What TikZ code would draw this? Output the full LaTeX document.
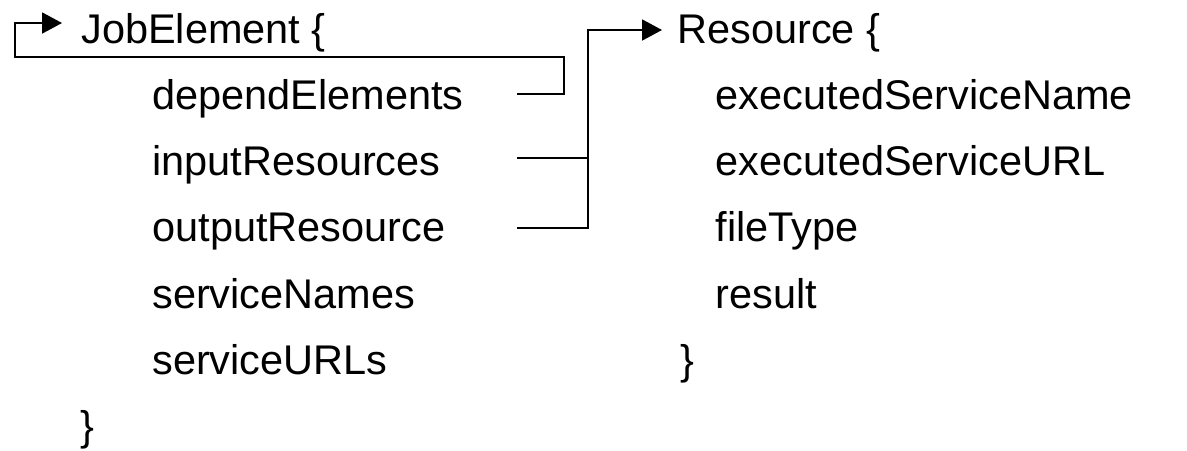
\documentclass[tikz,border=0pt]{standalone}
\usepackage{fontspec}
\setmainfont{Liberation Sans}
\usetikzlibrary{arrows.meta}

\begin{document}
\begin{tikzpicture}[
    every node/.style={font=\fontsize{23.6}{28}\selectfont,inner sep=0pt,anchor=base west},
    link/.style={line width=1.1pt},
    arrowlink/.style={link,-{Triangle[length=0.4cm,width=0.42cm]}}
]
\useasboundingbox (0,0) rectangle (23.74,-9);

% JobElement block (baselines every 1.326cm)
\node (job)    at (1.62,-0.86)  {JobElement \{};
\node (dep)    at (3.04,-2.186) {dependElements};
\node (inp)    at (3.04,-3.512) {inputResources};
\node (outp)   at (3.04,-4.838) {outputResource};
\node (sNames) at (3.04,-6.164) {serviceNames};
\node (sURLs)  at (3.04,-7.49)  {serviceURLs};
\node (jobEnd) at (1.6,-8.816)  {\}};

% Resource block
\node (res)    at (13.54,-0.86)  {Resource \{};
\node (exName) at (14.31,-2.186) {executedServiceName};
\node (exURL)  at (14.31,-3.512) {executedServiceURL};
\node (fType)  at (14.31,-4.838) {fileType};
\node (result) at (14.31,-6.164) {result};
\node (resEnd) at (13.6,-7.49)   {\}};

% connector ends beside the fields
\coordinate (depOut) at (10.34,-1.88);
\coordinate (inOut)  at (10.34,-3.16);
\coordinate (outOut) at (10.34,-4.56);
\coordinate (loop)   at (0.3,-1.14);
\coordinate (bus)    at (11.76,0);

% dependElements refers back to JobElement
\draw[arrowlink] (depOut) -- ++(0.94,0) |- (loop) |- ([xshift=-0.38cm,yshift=0.4cm]job.base west);

% inputResources / outputResource refer to Resource
\draw[link] (inOut) -- (inOut -| bus);
\draw[arrowlink] (outOut) -- (outOut -| bus) |- ([xshift=-0.3cm,yshift=0.26cm]res.base west);

\end{tikzpicture}
\end{document}
